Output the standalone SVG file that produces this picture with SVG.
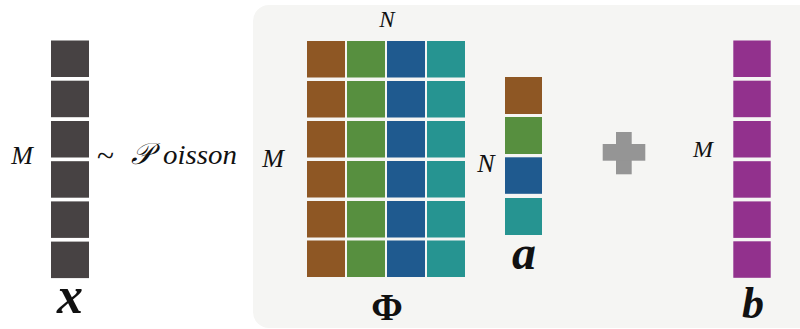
<svg xmlns="http://www.w3.org/2000/svg" width="800" height="329" viewBox="0 0 800 329">
<style>
.lbl{font-family:'Liberation Serif','Times New Roman',serif;font-style:italic;fill:#111;}
.big{font-family:'Liberation Serif','Times New Roman',serif;font-weight:bold;font-style:italic;fill:#111;text-anchor:middle;}
.phi{font-family:'Liberation Serif','Times New Roman',serif;font-weight:bold;fill:#111;text-anchor:middle;}
.dk{fill:#474243;}
.br{fill:#8E5724;}
.gr{fill:#578F3F;}
.bl{fill:#1F5A8F;}
.tl{fill:#269491;}
.pu{fill:#92318D;}
</style>
<rect width="800" height="329" fill="#ffffff"/>
<g id="panel">
<rect x="253" y="5" width="570" height="323" rx="16" ry="16" fill="#F5F5F3"/>
</g>
<g id="x-vector">
<rect class="dk" x="51" y="40.5" width="38" height="36.5"/>
<rect class="dk" x="51" y="80.7" width="38" height="36.5"/>
<rect class="dk" x="51" y="121" width="38" height="36.5"/>
<rect class="dk" x="51" y="161.2" width="38" height="36.5"/>
<rect class="dk" x="51" y="201.4" width="38" height="36.5"/>
<rect class="dk" x="51" y="241.6" width="38" height="36.5"/>
<text class="lbl" x="22" y="164" font-size="26" text-anchor="middle">M</text>
<text class="big" x="70" y="313" font-size="52">x</text>
</g>
<g id="poisson-label">
<text class="lbl" x="97" y="166" font-size="30" textLength="17" lengthAdjust="spacingAndGlyphs" style="font-style:normal">~</text>
<text class="lbl" x="131" y="164" font-size="30">𝒫</text>
<text class="lbl" x="163" y="164" font-size="27" textLength="74" lengthAdjust="spacingAndGlyphs">oisson</text>
</g>
<g id="phi-matrix">
<text class="lbl" x="387" y="27" font-size="23" text-anchor="middle">N</text>
<text class="lbl" x="273" y="167" font-size="26" text-anchor="middle">M</text>
<g class="br">
<rect x="307" y="41" width="38" height="36.5"/>
<rect x="307" y="81" width="38" height="36.5"/>
<rect x="307" y="121" width="38" height="36.5"/>
<rect x="307" y="161" width="38" height="36.5"/>
<rect x="307" y="201" width="38" height="36.5"/>
<rect x="307" y="240.5" width="38" height="36.5"/>
</g>
<g class="gr">
<rect x="347" y="41" width="38" height="36.5"/>
<rect x="347" y="81" width="38" height="36.5"/>
<rect x="347" y="121" width="38" height="36.5"/>
<rect x="347" y="161" width="38" height="36.5"/>
<rect x="347" y="201" width="38" height="36.5"/>
<rect x="347" y="240.5" width="38" height="36.5"/>
</g>
<g class="bl">
<rect x="387" y="41" width="38" height="36.5"/>
<rect x="387" y="81" width="38" height="36.5"/>
<rect x="387" y="121" width="38" height="36.5"/>
<rect x="387" y="161" width="38" height="36.5"/>
<rect x="387" y="201" width="38" height="36.5"/>
<rect x="387" y="240.5" width="38" height="36.5"/>
</g>
<g class="tl">
<rect x="427" y="41" width="38" height="36.5"/>
<rect x="427" y="81" width="38" height="36.5"/>
<rect x="427" y="121" width="38" height="36.5"/>
<rect x="427" y="161" width="38" height="36.5"/>
<rect x="427" y="201" width="38" height="36.5"/>
<rect x="427" y="240.5" width="38" height="36.5"/>
</g>
<text class="phi" x="387" y="320" font-size="38">Φ</text>
</g>
<g id="a-vector">
<text class="lbl" x="486" y="172" font-size="26" text-anchor="middle">N</text>
<rect class="br" x="505" y="77" width="37" height="37"/>
<rect class="gr" x="505" y="117" width="37" height="37"/>
<rect class="bl" x="505" y="157.3" width="37" height="36.5"/>
<rect class="tl" x="505" y="198" width="37" height="37"/>
<text class="big" x="524" y="269" font-size="48">a</text>
</g>
<g id="plus">
<rect x="616" y="132" width="15.7" height="42.3" fill="#959595"/>
<rect x="602.7" y="144" width="42.6" height="16.7" fill="#959595"/>
</g>
<g id="b-vector">
<text class="lbl" x="703" y="157" font-size="24" text-anchor="middle">M</text>
<rect class="pu" x="733.3" y="40.5" width="37.4" height="36.5"/>
<rect class="pu" x="733.3" y="80.7" width="37.4" height="36.5"/>
<rect class="pu" x="733.3" y="121" width="37.4" height="36.5"/>
<rect class="pu" x="733.3" y="161.2" width="37.4" height="36.5"/>
<rect class="pu" x="733.3" y="201.4" width="37.4" height="36.5"/>
<rect class="pu" x="733.3" y="241.3" width="37.4" height="36.5"/>
<text class="big" x="753" y="318" font-size="44">b</text>
</g>
<g id="connectors"></g>
</svg>
